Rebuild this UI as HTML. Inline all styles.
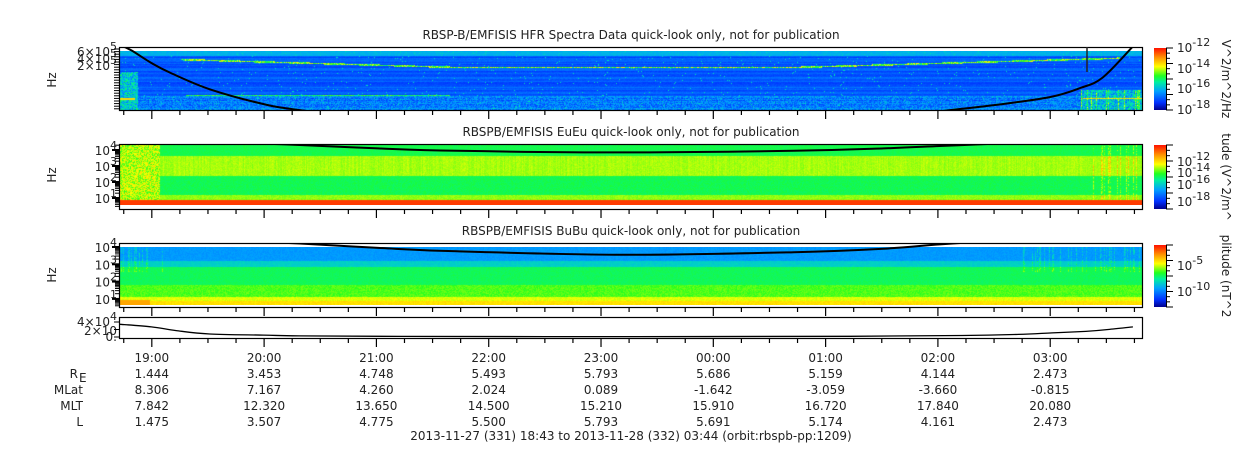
<!DOCTYPE html>
<html><head><meta charset="utf-8">
<style>
html,body{margin:0;padding:0;background:#fff;}
#wrap{position:relative;width:1250px;height:449px;overflow:hidden;font-family:"DejaVu Sans","Liberation Sans",sans-serif;}
canvas{position:absolute;}
svg{position:absolute;left:0;top:0;}
text{font-family:"DejaVu Sans","Liberation Sans",sans-serif;font-size:12px;fill:#222;}
</style></head>
<body>
<div id="wrap">
<canvas id="c1" width="1023" height="59" style="left:120px;top:51px"></canvas>
<canvas id="c2" width="1023" height="60" style="left:120px;top:145px"></canvas>
<canvas id="c3" width="1023" height="58" style="left:120px;top:247px"></canvas>
<svg id="s" width="1250" height="449">
<defs>
<linearGradient id="jet" x1="0" y1="1" x2="0" y2="0">
<stop offset="0" stop-color="#00008c"/><stop offset="0.12" stop-color="#0030ff"/><stop offset="0.3" stop-color="#00a0ff"/>
<stop offset="0.45" stop-color="#00f0a0"/><stop offset="0.55" stop-color="#20ff20"/><stop offset="0.7" stop-color="#ffff00"/>
<stop offset="0.85" stop-color="#ff9000"/><stop offset="1" stop-color="#ff1000"/></linearGradient>
</defs>
<g id="g"></g>
</svg>
</div>
<script>
// ---- data ----
var hourLabels=["19:00","20:00","21:00","22:00","23:00","00:00","01:00","02:00","03:00"];
var rowNames=["R","MLat","MLT","L"];
var reVals=["1.444","3.453","4.748","5.493","5.793","5.686","5.159","4.144","2.473"];
var mlatVals=["8.306","7.167","4.260","2.024","0.089","-1.642","-3.059","-3.660","-0.815"];
var mltVals=["7.842","12.320","13.650","14.500","15.210","15.910","16.720","17.840","20.080"];
var lVals=["1.475","3.507","4.775","5.500","5.793","5.691","5.174","4.161","2.473"];
// curve times: hours since 18:43
var curveT=[0,0.1,0.28,0.45,0.8,1.28,1.6,2.3,3.0,4.5,6.0,6.8,7.3,7.8,8.28,8.55,8.75,9.02];
var hfrLogF=[6.15,5.95,5.46,5.08,4.45,3.88,3.65,3.3,3.1,3.0,3.1,3.3,3.6,3.85,4.15,4.5,4.9,6.1];
var eLogF=[5.2,5.0,4.8,4.6,4.5,4.4,4.31,4.1,3.95,3.85,3.95,4.1,4.25,4.4,4.6,4.8,5.0,5.2];
var bLogF=[5.2,5.0,4.8,4.6,4.45,4.3,4.2,3.95,3.75,3.55,3.7,3.9,4.15,4.35,4.5,4.7,4.9,5.1];
var fceT=[0,0.28,0.5,0.8,1.28,1.6,2.5,4.5,6.5,7.5,8.0,8.3,8.6,8.8,9.02];
var fceVals=[3.4e4,2.7e4,1.7e4,0.8e4,0.5e4,0.3e4,0.15e4,0.1e4,0.2e4,0.4e4,0.7e4,1.1e4,1.5e4,2.0e4,2.7e4];
// ---- scales ----
function xs(t){return 120+t*112.3;}
function y1(lf){return 75-(lf-5)*26;}
function y2(lf){return 150-(lf-4)*16;}
function y3(lf){return 247-(lf-4)*17.3;}
function y4(v){return 337-v/2e4*7.5;}
var NS="http://www.w3.org/2000/svg",G=document.getElementById('g');
function mk(tag,at,txt){var e=document.createElementNS(NS,tag);for(var k in at)e.setAttribute(k,at[k]);if(txt!=null)e.textContent=txt;G.appendChild(e);return e;}
// ---- spectrogram textures ----
var seed=12345;function rnd(){seed=(seed*1103515245+12345)&0x7fffffff;return seed/0x7fffffff;}
function jet(v){v=Math.max(0,Math.min(1,v));var st=[[0,0,0,140],[0.12,0,48,255],[0.3,0,160,255],[0.45,0,240,160],[0.55,32,255,32],[0.7,255,255,0],[0.85,255,144,0],[1,255,16,0]];
for(var i=1;i<st.length;i++)if(v<=st[i][0]){var a=st[i-1],b=st[i],f=(v-a[0])/(b[0]-a[0]);return[a[1]+f*(b[1]-a[1]),a[2]+f*(b[2]-a[2]),a[3]+f*(b[3]-a[3])];}return[255,16,0];}
function paint(id,fn){var c=document.getElementById(id),ctx=c.getContext('2d'),W=c.width,H=c.height,im=ctx.createImageData(W,H);
var rowN=[];for(var y=0;y<H;y++)rowN.push(rnd()-0.5);var colN=[];for(var x=0;x<W;x++)colN.push(rnd()-0.5);
for(var y=0;y<H;y++)for(var x=0;x<W;x++){var v=fn(x,y,rowN[y],colN[x],rnd());var cc=jet(v),p=(y*W+x)*4;im.data[p]=cc[0];im.data[p+1]=cc[1];im.data[p+2]=cc[2];im.data[p+3]=255;}
ctx.putImageData(im,0,0);}
function plasmaY(x){var t=x/112.3;var d=Math.abs(t-4.5);return 16-Math.max(0,d-1.5)*3.2;}
paint('c1',function(x,y,rn,cn,r){var v=0.16+rn*0.1+r*0.04;if(y<5)v=0.31+r*0.05;
 if(y>44)v+=r*0.14;if(x<18&&y>20)v=0.22+r*0.3;if(x<15&&(y==47||y==48))v=0.75;
 if(x>65&&x<330&&(y==44))v=0.42+r*0.2;
 var py=plasmaY(x);if(Math.abs(y-py)<0.8&&x>60&&x<1000)v=0.45+r*0.3;
 if(x>960&&y>38){v=0.2+r*0.3;if(cn>0.35)v+=0.2;if(y==47)v=0.7+r*0.1;}
 if(r>0.985)v=0.42;return v;});
paint('c2',function(x,y,rn,cn,r){var yy=y;var v;
 if(yy<11)v=0.5+r*0.03;else if(yy<31)v=0.62+cn*0.03+r*0.04;else if(yy<50)v=0.49+r*0.04;else if(yy<55)v=0.6+r*0.05;else v=0.95;
 if(x<40&&yy<55)v=0.55+r*0.2;if(x>960&&yy<55&&cn>0.2)v+=r*0.15;if(x>1045&&yy>30&&yy<55&&cn>0.35)v=0.92;
 return v;});
paint('c3',function(x,y,rn,cn,r){var v;
 if(y<14)v=0.27+r*0.04;else if(y<20)v=0.37+r*0.04;else if(y<38)v=0.49+r*0.03;else if(y<50)v=0.55+r*0.06;else if(y<54)v=0.66+r*0.04;else v=0.72+r*0.04;
 if(x<30&&y>52)v=0.82;if((x<50||x>900)&&y<25&&cn>0.25)v+=r*0.12;
 return v;});
// ---- panel frames ----
var panels=[[47,110,'hfr'],[144,209,'eueu'],[243,307,'bubu'],[317,338,'fce']];
panels.forEach(function(p){var r=mk('rect',{x:119.5,y:p[0]+0.5,width:1023,height:p[1]-p[0],fill:'none',stroke:'#000','stroke-width':1.2});

 for(var m=0;m<=36;m++){var t=0.2833+(m-1)*0.25;if(t<0||t>9.1)continue;var x=xs(t);var maj=(m-1)%4==0;
  var tk=mk('line',{x1:x,x2:x,y1:p[1],y2:p[1]+(maj?9:5),stroke:'#000','stroke-width':1.2});
  }
});
// ---- titles ----
[["RBSP-B/EMFISIS  HFR Spectra Data quick-look only, not for publication",39],["RBSPB/EMFISIS  EuEu quick-look only, not for publication",136],["RBSPB/EMFISIS  BuBu quick-look only, not for publication",235]].forEach(function(a,i){
 var t=mk('text',{x:631,y:a[1],'text-anchor':'middle','font-size':'11.5'},a[0]);});
// ---- y axis labels ----
function sup(x,y,base,ex,anchor,name){var t=mk('text',{x:x,y:y,'text-anchor':anchor||'end'});
 t.innerHTML=base+'<tspan dy="-6" font-size="11">'+ex+'</tspan>';return t;}
[[6,53],[4,60],[2,67]].forEach(function(a){sup(117,a[1]+3,a[0]+'×10','5','end','hfr-y-tick-label');});
[4,3,2,1].forEach(function(e){sup(117,y2(e)+5,'10',e,'end','eueu-y-tick-label');sup(117,y3(e)+5,'10',e,'end','bubu-y-tick-label');});
sup(117,326,'4×10','4','end','fce-y-tick-label');sup(117,335,'2×10','','end','fce-y-tick-label');
var z=mk('text',{x:117,y:341,'text-anchor':'end'},'0.');
[[80,'hfr'],[175,'eueu'],[275,'bubu']].forEach(function(a){var t=mk('text',{x:56,y:a[0],transform:'rotate(-90 56 '+a[0]+')','text-anchor':'middle'},'Hz');});
// y minor ticks
for(var lf=3.7;lf<6.1;lf+=0.1){var yy=y1(lf);if(yy>47&&yy<110){var l=mk('line',{x1:114,x2:119,y1:yy,y2:yy,stroke:'#000'});}}
[[y2,144,209,'eueu'],[y3,243,307,'bubu']].forEach(function(a){for(var e=0;e<5;e++)for(var k=1;k<10;k++){var yy=a[0](e+Math.log10(k));if(yy>a[1]&&yy<a[2]){var l=mk('line',{x1:k==1?112:115,x2:119,y1:yy,y2:yy,stroke:'#000','stroke-width':k==1?2:1});}}});
[0,2e4,4e4].forEach(function(v){var l=mk('line',{x1:114,x2:119,y1:y4(v),y2:y4(v),stroke:'#000'});});
// ---- curves (smoothed through data points) ----
function curve(tArr,vArr,yf,top,bot,name,w){var P=[];for(var i=0;i<tArr.length;i++)P.push([xs(tArr[i]),yf(vArr[i])]);
 var d='M'+P[0][0].toFixed(1)+','+P[0][1].toFixed(1);
 for(var i=0;i<P.length-1;i++){var p0=P[Math.max(0,i-1)],p1=P[i],p2=P[i+1],p3=P[Math.min(P.length-1,i+2)];
  d+=' C'+(p1[0]+(p2[0]-p0[0])/6).toFixed(1)+','+(p1[1]+(p2[1]-p0[1])/6).toFixed(1)+' '+(p2[0]-(p3[0]-p1[0])/6).toFixed(1)+','+(p2[1]-(p3[1]-p1[1])/6).toFixed(1)+' '+p2[0].toFixed(1)+','+p2[1].toFixed(1);}
 var cp=mk('clipPath',{id:'cl'+name});var r=document.createElementNS(NS,'rect');r.setAttribute('x',120);r.setAttribute('y',top);r.setAttribute('width',1023);r.setAttribute('height',bot-top);cp.appendChild(r);
 var pl=mk('path',{d:d,fill:'none',stroke:'#000','stroke-width':w||2,'clip-path':'url(#cl'+name+')'});}
curve(curveT,hfrLogF,y1,47,110,'hfr-cyclotron-line');
curve(curveT,eLogF,y2,144,209,'eueu-cyclotron-line');
curve(curveT,bLogF,y3,243,307,'bubu-cyclotron-line');
curve(fceT,fceVals,y4,317,338,'fce-line',1.3);
var sp=mk('line',{x1:1087,x2:1087,y1:47,y2:72,stroke:'#222','stroke-width':1.5});
// ---- colorbars ----
[[48,110,'hfr'],[145,209,'eueu'],[245,307,'bubu']].forEach(function(c){var r=mk('rect',{x:1154,y:c[0],width:12,height:c[1]-c[0],fill:'url(#jet)'});
 for(var k=0;k<=12;k++){var yy=c[0]+k*(c[1]-c[0])/12;var l=mk('line',{x1:1166,x2:k%3==0?1173:1170,y1:yy,y2:yy,stroke:'#000'});}
 var lx=mk('line',{x1:1166.5,x2:1166.5,y1:c[0],y2:c[1],stroke:'#000'});});
[[-12,52],[-14,73],[-16,93],[-18,114]].forEach(function(a){sup(1177,a[1],'10',a[0],'start','hfr-colorbar-label');});
[[-12,166],[-14,177],[-16,189],[-18,206]].forEach(function(a){sup(1177,a[1],'10',a[0],'start','eueu-colorbar-label');});
[[-5,270],[-10,296]].forEach(function(a){sup(1177,a[1],'10',a[0],'start','bubu-colorbar-label');});
[[79,'V^2/m^2/Hz'],[177,'tude (V^2/m^'],[276,'plitude (nT^2']].forEach(function(a,i){var t=mk('text',{x:1222,y:a[0],transform:'rotate(90 1222 '+a[0]+')','text-anchor':'middle'},a[1]);});
// ---- ephemeris table ----
var rows=[hourLabels,reVals,mlatVals,mltVals,lVals];var rys=[362,378,394,410,426];
rows.forEach(function(arr,r){arr.forEach(function(v,i){var t=mk('text',{x:xs(0.2833+i),y:rys[r],'text-anchor':'middle'},v);});});
rowNames.forEach(function(n,i){var t=mk('text',{x:i==0?78:83,y:rys[i+1],'text-anchor':'end'},n);});
var sb=mk('text',{x:79,y:382,'font-size':'6'},'E');
var ft=mk('text',{x:631,y:440,'text-anchor':'middle'},'2013-11-27 (331) 18:43 to 2013-11-28 (332) 03:44 (orbit:rbspb-pp:1209)');
</script>
</body></html>
